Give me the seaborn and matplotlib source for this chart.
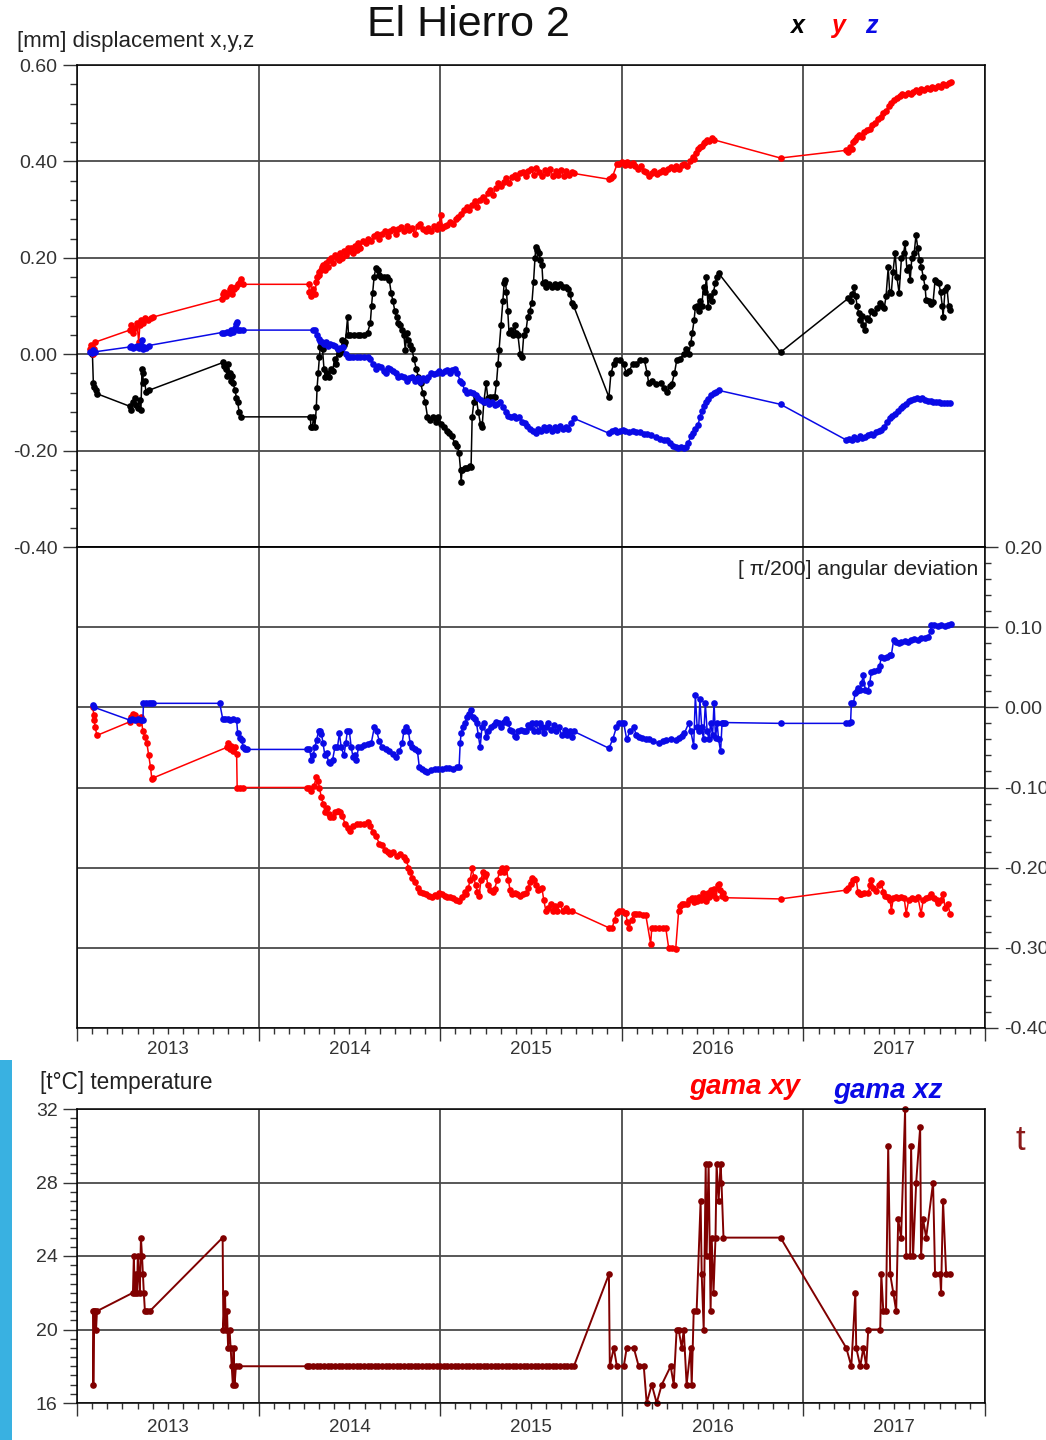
import matplotlib
matplotlib.use("Agg")
import matplotlib.pyplot as plt
import seaborn as sns
from matplotlib.ticker import MultipleLocator, FixedLocator, FormatStrFormatter, NullFormatter
from matplotlib.patches import Rectangle

# ---------------- DATA (decimal years, values) ----------------
years = [2013, 2014, 2015, 2016, 2017]

# displacement x (black)
x_t = [2013.085, 2013.090, 2013.095, 2013.105, 2013.110,
       2013.290, 2013.300, 2013.310, 2013.318, 2013.325, 2013.335, 2013.345, 2013.352, 2013.358, 2013.362,
       2013.366, 2013.372, 2013.380, 2013.395,
       2013.805, 2013.812, 2013.820, 2013.826, 2013.832, 2013.840, 2013.848, 2013.855, 2013.860, 2013.870,
       2013.878, 2013.885, 2013.893, 2013.905,
       2014.285, 2014.288, 2014.296, 2014.302, 2014.310, 2014.318, 2014.322, 2014.328, 2014.335, 2014.340,
       2014.346, 2014.352, 2014.360, 2014.368, 2014.378, 2014.388, 2014.398, 2014.408, 2014.418, 2014.425,
       2014.435, 2014.445, 2014.455, 2014.462, 2014.470, 2014.478, 2014.490, 2014.495, 2014.505, 2014.525,
       2014.545, 2014.560, 2014.580, 2014.600, 2014.615, 2014.622, 2014.628, 2014.636, 2014.645, 2014.655,
       2014.665, 2014.675, 2014.690, 2014.705, 2014.720, 2014.730, 2014.740, 2014.750, 2014.760, 2014.770,
       2014.780, 2014.790, 2014.800, 2014.808, 2014.815, 2014.825, 2014.835, 2014.845, 2014.855, 2014.868,
       2014.880, 2014.892, 2014.905, 2014.918, 2014.930, 2014.945, 2014.960, 2014.975, 2014.990, 2015.005,
       2015.020, 2015.035, 2015.049, 2015.065, 2015.080, 2015.095, 2015.104, 2015.112, 2015.115, 2015.121,
       2015.135, 2015.150, 2015.165, 2015.170, 2015.176, 2015.185, 2015.198, 2015.210, 2015.222, 2015.231,
       2015.240, 2015.253, 2015.262, 2015.275, 2015.290, 2015.300, 2015.310, 2015.318, 2015.324, 2015.335,
       2015.345, 2015.352, 2015.358, 2015.365, 2015.372, 2015.379, 2015.390, 2015.400, 2015.410, 2015.418,
       2015.428, 2015.440, 2015.451, 2015.460, 2015.473, 2015.482, 2015.492, 2015.505, 2015.514, 2015.522,
       2015.527, 2015.535, 2015.544, 2015.552, 2015.560, 2015.566, 2015.575, 2015.585, 2015.600, 2015.615,
       2015.630, 2015.645, 2015.660, 2015.675, 2015.692, 2015.705, 2015.715, 2015.725, 2015.735,
       2015.929, 2015.940, 2015.955, 2015.970, 2015.990, 2016.010, 2016.025, 2016.040, 2016.060, 2016.080,
       2016.100, 2016.125, 2016.140, 2016.148, 2016.165, 2016.190, 2016.215, 2016.230, 2016.250, 2016.265,
       2016.275, 2016.290, 2016.302, 2016.320, 2016.340, 2016.355, 2016.368, 2016.380, 2016.388, 2016.398,
       2016.405, 2016.415, 2016.425, 2016.433, 2016.440, 2016.450, 2016.458, 2016.466, 2016.475, 2016.485,
       2016.495, 2016.505, 2016.515, 2016.525, 2016.533,
       2016.874,
       2017.247, 2017.260, 2017.270, 2017.280, 2017.288, 2017.296, 2017.305, 2017.312, 2017.320, 2017.330,
       2017.340, 2017.348, 2017.360, 2017.374, 2017.390, 2017.405, 2017.420, 2017.432, 2017.445, 2017.455,
       2017.467, 2017.475, 2017.484, 2017.493, 2017.505, 2017.515, 2017.527, 2017.540, 2017.552, 2017.560,
       2017.570, 2017.580, 2017.588, 2017.597, 2017.610, 2017.620, 2017.630, 2017.640, 2017.650, 2017.660,
       2017.670, 2017.676, 2017.690, 2017.705, 2017.714, 2017.725, 2017.735, 2017.745, 2017.755, 2017.765,
       2017.769, 2017.780, 2017.790, 2017.800, 2017.808]
x_v = [0.000, -0.060, -0.068, -0.075, -0.082,
       -0.108, -0.115, -0.100, -0.090, -0.105, -0.112, -0.095, -0.115, -0.030, -0.040,
       -0.060, -0.055, -0.078, -0.075,
       -0.017, -0.025, -0.030, -0.045, -0.020, -0.040, -0.055, -0.045, -0.060, -0.075,
       -0.090, -0.100, -0.120, -0.130,
       -0.130, -0.150, -0.152, -0.130, -0.150, -0.110, -0.070, -0.040, -0.005, 0.015,
       0.023, 0.010, -0.030, -0.048, -0.040, -0.048, -0.030, -0.035, -0.010, -0.020,
       0.010, 0.000, 0.005, 0.030, 0.020, 0.025, 0.077, 0.040, 0.040, 0.040,
       0.040, 0.040, 0.040, 0.045, 0.064, 0.100, 0.127, 0.160, 0.178, 0.175,
       0.165, 0.160, 0.160, 0.160, 0.153, 0.127, 0.110, 0.090, 0.077, 0.065,
       0.060, 0.050, 0.040, 0.008, 0.045, 0.030, 0.020, 0.010, -0.010, -0.030,
       -0.048, -0.060, -0.080, -0.100, -0.130, -0.137, -0.130, -0.140, -0.130, -0.145,
       -0.150, -0.160, -0.164, -0.170, -0.185, -0.190, -0.206, -0.240, -0.265, -0.240,
       -0.236, -0.236, -0.232, -0.234, -0.130, -0.100, -0.089, -0.120, -0.145, -0.151,
       -0.100, -0.060, -0.090, -0.089, -0.089, -0.089, -0.060, -0.020, 0.008, 0.060,
       0.110, 0.147, 0.153, 0.130, 0.090, 0.044, 0.050, 0.040, 0.060, 0.044,
       0.040, 0.000, -0.006, 0.040, 0.050, 0.077, 0.090, 0.106, 0.150, 0.200,
       0.222, 0.216, 0.210, 0.195, 0.185, 0.147, 0.150, 0.139, 0.145, 0.139,
       0.145, 0.139, 0.145, 0.139, 0.140, 0.135, 0.125, 0.106, 0.100,
       -0.089, -0.040, -0.020, -0.013, -0.013, -0.020, -0.040, -0.035, -0.020, -0.020,
       -0.013, -0.013, -0.040, -0.060, -0.055, -0.062, -0.060, -0.070, -0.079, -0.065,
       -0.062, -0.040, -0.013, -0.010, 0.000, 0.010, 0.000, 0.023, 0.044, 0.070,
       0.098, 0.100, 0.090, 0.110, 0.100, 0.139, 0.130, 0.160, 0.098, 0.120,
       0.110, 0.130, 0.147, 0.160, 0.168,
       0.004,
       0.116, 0.110, 0.125, 0.139, 0.120, 0.100, 0.085, 0.071, 0.080, 0.060,
       0.050, 0.075, 0.070, 0.090, 0.085, 0.095, 0.106, 0.100, 0.095, 0.120,
       0.180, 0.130, 0.127, 0.170, 0.210, 0.160, 0.127, 0.200, 0.210, 0.230,
       0.175, 0.180, 0.153, 0.200, 0.210, 0.247, 0.220, 0.195, 0.180, 0.160,
       0.140, 0.112, 0.110, 0.105, 0.108, 0.153, 0.150, 0.147, 0.130, 0.100,
       0.077, 0.133, 0.140, 0.100, 0.091]

# displacement y (red)
y_t = [2013.071, 2013.075, 2013.080, 2013.085, 2013.090, 2013.095, 2013.100,
       2013.290, 2013.300, 2013.310, 2013.320, 2013.330, 2013.340, 2013.346, 2013.355, 2013.365, 2013.375,
       2013.390, 2013.405, 2013.418,
       2013.797, 2013.805, 2013.812, 2013.820, 2013.830, 2013.840, 2013.848, 2013.855, 2013.865, 2013.875,
       2013.885, 2013.895, 2013.905, 2013.912,
       2014.275, 2014.280, 2014.287, 2014.293, 2014.300, 2014.310, 2014.318, 2014.324, 2014.330, 2014.335,
       2014.342, 2014.350, 2014.357, 2014.365, 2014.372, 2014.380, 2014.390, 2014.400, 2014.410, 2014.420,
       2014.430, 2014.440, 2014.450, 2014.460, 2014.470, 2014.480, 2014.490, 2014.500, 2014.510, 2014.520,
       2014.530, 2014.540, 2014.550, 2014.560, 2014.575, 2014.590, 2014.605, 2014.620, 2014.635, 2014.650,
       2014.665, 2014.680, 2014.695, 2014.710, 2014.725, 2014.740, 2014.755, 2014.770, 2014.785, 2014.800,
       2014.815, 2014.830, 2014.845, 2014.860, 2014.875, 2014.890, 2014.905, 2014.920, 2014.935, 2014.950,
       2014.965, 2014.980, 2014.995, 2015.005, 2015.012, 2015.025, 2015.040, 2015.055, 2015.070, 2015.085,
       2015.100, 2015.115, 2015.130, 2015.145, 2015.160, 2015.175, 2015.190, 2015.205, 2015.220, 2015.235,
       2015.250, 2015.262, 2015.275, 2015.290, 2015.305, 2015.320, 2015.335, 2015.350, 2015.365, 2015.380,
       2015.395, 2015.410, 2015.425, 2015.440, 2015.455, 2015.470, 2015.485, 2015.500, 2015.515, 2015.530,
       2015.545, 2015.560, 2015.575, 2015.590, 2015.605, 2015.620, 2015.635, 2015.650, 2015.665, 2015.680,
       2015.695, 2015.710, 2015.725, 2015.736,
       2015.929, 2015.940, 2015.950, 2015.975, 2015.985, 2016.000, 2016.015, 2016.030, 2016.045, 2016.060,
       2016.075, 2016.090, 2016.105, 2016.120, 2016.135, 2016.150, 2016.165, 2016.180, 2016.195, 2016.210,
       2016.225, 2016.240, 2016.255, 2016.270, 2016.285, 2016.300, 2016.315, 2016.330, 2016.345, 2016.360,
       2016.375, 2016.390, 2016.400, 2016.410, 2016.420, 2016.430, 2016.440, 2016.450, 2016.460, 2016.470,
       2016.480, 2016.495, 2016.505,
       2016.874,
       2017.236, 2017.245, 2017.255, 2017.265, 2017.275, 2017.285, 2017.295, 2017.305, 2017.320, 2017.335,
       2017.350, 2017.365, 2017.380, 2017.395, 2017.410, 2017.425, 2017.440, 2017.455, 2017.470, 2017.485,
       2017.500, 2017.515, 2017.530, 2017.545, 2017.560, 2017.575, 2017.590, 2017.605, 2017.620, 2017.635,
       2017.650, 2017.665, 2017.680, 2017.695, 2017.710, 2017.725, 2017.740, 2017.755, 2017.770, 2017.785,
       2017.800, 2017.813]
y_v = [0.010, 0.020, 0.005, 0.015, 0.000, 0.010, 0.025,
       0.050, 0.060, 0.045, 0.055, 0.065, 0.025, 0.060, 0.070, 0.065, 0.075,
       0.070, 0.075, 0.077,
       0.115, 0.125, 0.130, 0.120, 0.128, 0.135, 0.140, 0.125, 0.135, 0.140,
       0.145, 0.150, 0.155, 0.145,
       0.145, 0.130, 0.120, 0.127, 0.135, 0.125, 0.150, 0.160, 0.170, 0.165,
       0.175, 0.180, 0.185, 0.175, 0.190, 0.180, 0.195, 0.200, 0.190, 0.205,
       0.200, 0.195, 0.210, 0.200, 0.215, 0.205, 0.220, 0.215, 0.220, 0.210,
       0.225, 0.216, 0.230, 0.220, 0.235, 0.230, 0.240, 0.235, 0.245, 0.250,
       0.240, 0.250, 0.255, 0.245, 0.255, 0.260, 0.250, 0.260, 0.263, 0.255,
       0.265, 0.258, 0.262, 0.250, 0.265, 0.270, 0.260, 0.255, 0.262, 0.255,
       0.265, 0.260, 0.270, 0.288, 0.262, 0.265, 0.268, 0.275, 0.270, 0.280,
       0.285, 0.290, 0.300, 0.305, 0.300, 0.310, 0.318, 0.305, 0.320, 0.326,
       0.318, 0.335, 0.340, 0.330, 0.345, 0.355, 0.350, 0.358, 0.365, 0.355,
       0.368, 0.372, 0.365, 0.375, 0.378, 0.370, 0.380, 0.384, 0.372, 0.386,
       0.378, 0.370, 0.382, 0.375, 0.385, 0.370, 0.380, 0.372, 0.382, 0.370,
       0.380, 0.372, 0.378, 0.375,
       0.363, 0.365, 0.370, 0.395, 0.395, 0.398, 0.393, 0.398, 0.393, 0.396,
       0.390, 0.385, 0.390, 0.380, 0.378, 0.370, 0.375, 0.380, 0.373, 0.378,
       0.382, 0.378, 0.385, 0.388, 0.385, 0.390, 0.385, 0.392, 0.395, 0.390,
       0.400, 0.410, 0.405, 0.418, 0.425, 0.430, 0.432, 0.438, 0.440, 0.445,
       0.443, 0.448, 0.445,
       0.407,
       0.423, 0.420, 0.430, 0.425, 0.440, 0.445, 0.450, 0.455, 0.450, 0.460,
       0.465, 0.468, 0.475, 0.480, 0.488, 0.492, 0.500, 0.505, 0.515, 0.522,
       0.527, 0.532, 0.535, 0.540, 0.538, 0.542, 0.540, 0.545, 0.548, 0.545,
       0.550, 0.548, 0.552, 0.550, 0.555, 0.552, 0.557, 0.555, 0.560, 0.558,
       0.562, 0.565]

# displacement z (blue)
z_t = [2013.071, 2013.080, 2013.090, 2013.100,
       2013.290, 2013.300, 2013.310, 2013.320, 2013.330, 2013.340, 2013.350, 2013.358, 2013.363, 2013.370,
       2013.380, 2013.395,
       2013.797, 2013.810, 2013.825, 2013.840, 2013.850, 2013.860, 2013.870, 2013.875, 2013.880, 2013.885,
       2013.900, 2013.912,
       2014.297, 2014.310, 2014.320, 2014.330, 2014.340, 2014.350, 2014.360, 2014.370, 2014.380, 2014.392,
       2014.407, 2014.420, 2014.435, 2014.450, 2014.465, 2014.480, 2014.490, 2014.505, 2014.520, 2014.540,
       2014.560, 2014.580, 2014.600, 2014.615, 2014.630, 2014.645, 2014.660, 2014.675, 2014.690, 2014.700,
       2014.712, 2014.725, 2014.740, 2014.755, 2014.770, 2014.785, 2014.800, 2014.815, 2014.830, 2014.845,
       2014.860, 2014.875, 2014.890, 2014.905, 2014.920, 2014.935, 2014.950, 2014.965, 2014.980, 2014.995,
       2015.010, 2015.025, 2015.040, 2015.055, 2015.065, 2015.080, 2015.095, 2015.110, 2015.121, 2015.135,
       2015.150, 2015.165, 2015.180, 2015.195, 2015.210, 2015.225, 2015.240, 2015.255, 2015.270, 2015.285,
       2015.300, 2015.315, 2015.330, 2015.345, 2015.360, 2015.375, 2015.390, 2015.405, 2015.420, 2015.435,
       2015.450, 2015.465, 2015.480, 2015.495, 2015.510, 2015.525, 2015.540, 2015.555, 2015.570, 2015.585,
       2015.600, 2015.615, 2015.630, 2015.645, 2015.660, 2015.675, 2015.690, 2015.705, 2015.720, 2015.736,
       2015.929, 2015.945, 2015.960, 2015.975, 2015.990, 2016.005, 2016.020, 2016.040, 2016.060, 2016.080,
       2016.100, 2016.120, 2016.140, 2016.160, 2016.187, 2016.210, 2016.230, 2016.250, 2016.265, 2016.280,
       2016.297, 2016.310, 2016.325, 2016.340, 2016.352, 2016.365, 2016.380, 2016.392, 2016.405, 2016.420,
       2016.430, 2016.440, 2016.450, 2016.462, 2016.475, 2016.490, 2016.505, 2016.520, 2016.533,
       2016.874,
       2017.236, 2017.250, 2017.265, 2017.280, 2017.295, 2017.310, 2017.325, 2017.340, 2017.355, 2017.370,
       2017.385, 2017.400, 2017.415, 2017.430, 2017.445, 2017.460, 2017.475, 2017.490, 2017.505, 2017.520,
       2017.535, 2017.550, 2017.565, 2017.580, 2017.595, 2017.610, 2017.625, 2017.640, 2017.655, 2017.670,
       2017.685, 2017.700, 2017.715, 2017.730, 2017.745, 2017.760, 2017.775, 2017.790, 2017.808]
z_v = [0.005, 0.003, 0.008, 0.005,
       0.015, 0.018, 0.013, 0.015, 0.018, 0.012, 0.020, 0.030, 0.010, 0.015,
       0.012, 0.018,
       0.045, 0.045, 0.047, 0.045, 0.050, 0.046, 0.055, 0.062, 0.066, 0.050,
       0.050, 0.050,
       0.050, 0.050, 0.040, 0.032, 0.028, 0.025, 0.022, 0.025, 0.018, 0.022,
       0.020, 0.018, 0.010, 0.012, 0.015, 0.000, -0.006, -0.005, -0.005, -0.005,
       -0.005, -0.005, -0.006, -0.010, -0.020, -0.030, -0.025, -0.027, -0.035, -0.040,
       -0.028, -0.030, -0.035, -0.040, -0.048, -0.045, -0.048, -0.055, -0.050, -0.048,
       -0.055, -0.050, -0.058, -0.050, -0.054, -0.048, -0.040, -0.042, -0.038, -0.035,
       -0.040, -0.035, -0.033, -0.040, -0.032, -0.030, -0.040, -0.055, -0.060, -0.075,
       -0.081, -0.078, -0.081, -0.085, -0.090, -0.095, -0.100, -0.098, -0.103, -0.100,
       -0.105, -0.103, -0.100, -0.110, -0.120, -0.128, -0.130, -0.128, -0.132, -0.130,
       -0.140, -0.143, -0.148, -0.155, -0.160, -0.164, -0.155, -0.160, -0.150, -0.158,
       -0.152, -0.160, -0.150, -0.157, -0.148, -0.155, -0.150, -0.155, -0.143, -0.133,
       -0.164, -0.160, -0.158, -0.162, -0.160, -0.158, -0.160, -0.162, -0.160, -0.162,
       -0.162, -0.165, -0.165, -0.168, -0.172, -0.175, -0.178, -0.178, -0.185, -0.190,
       -0.193, -0.195, -0.193, -0.195, -0.193, -0.185, -0.170, -0.164, -0.155, -0.147,
       -0.130, -0.118, -0.108, -0.100, -0.092, -0.085, -0.080, -0.078, -0.075,
       -0.104,
       -0.178, -0.175, -0.178, -0.172, -0.175, -0.170, -0.173, -0.172, -0.168, -0.165,
       -0.168, -0.162, -0.160, -0.158, -0.150, -0.140, -0.133, -0.128, -0.125, -0.118,
       -0.112, -0.108, -0.103, -0.098, -0.095, -0.093, -0.091, -0.092, -0.091, -0.095,
       -0.098, -0.098, -0.099, -0.100, -0.100, -0.101, -0.101, -0.102, -0.102]

# angular deviation gama xy (red)
gxy_t = [2013.088, 2013.092, 2013.095, 2013.100, 2013.110,
         2013.291, 2013.300, 2013.308, 2013.318, 2013.328, 2013.340, 2013.352, 2013.363, 2013.374, 2013.385,
         2013.395, 2013.405, 2013.412, 2013.420,
         2013.824, 2013.830, 2013.840, 2013.850, 2013.860, 2013.870, 2013.879, 2013.882, 2013.895, 2013.912,
         2014.264, 2014.280, 2014.291, 2014.305, 2014.318, 2014.326, 2014.335, 2014.345, 2014.355, 2014.365,
         2014.375, 2014.385, 2014.395, 2014.407, 2014.420, 2014.435, 2014.450, 2014.462, 2014.475, 2014.490,
         2014.505, 2014.520, 2014.540, 2014.560, 2014.580, 2014.600, 2014.615, 2014.630, 2014.645, 2014.665,
         2014.680, 2014.695, 2014.710, 2014.725, 2014.740, 2014.760, 2014.780, 2014.800, 2014.813, 2014.825,
         2014.835, 2014.846, 2014.860, 2014.875, 2014.890, 2014.905, 2014.923, 2014.940, 2014.955, 2014.970,
         2014.985, 2014.995, 2015.010, 2015.025, 2015.040, 2015.055, 2015.070, 2015.085, 2015.104, 2015.120,
         2015.135, 2015.143, 2015.155, 2015.165, 2015.176, 2015.185, 2015.195, 2015.205, 2015.214, 2015.225,
         2015.235, 2015.245, 2015.253, 2015.262, 2015.275, 2015.290, 2015.300, 2015.315, 2015.328, 2015.340,
         2015.352, 2015.363, 2015.375, 2015.385, 2015.396, 2015.410, 2015.425, 2015.440, 2015.455, 2015.473,
         2015.485, 2015.495, 2015.505, 2015.515, 2015.528, 2015.540, 2015.552, 2015.560, 2015.570, 2015.582,
         2015.595, 2015.610, 2015.620, 2015.632, 2015.645, 2015.660, 2015.675, 2015.692, 2015.705, 2015.725,
         2015.929, 2015.947, 2015.960, 2015.972, 2015.984, 2016.000, 2016.015, 2016.022, 2016.030, 2016.038,
         2016.055, 2016.065, 2016.077, 2016.095, 2016.115, 2016.132, 2016.159, 2016.165, 2016.185, 2016.205,
         2016.225, 2016.242, 2016.258, 2016.275, 2016.297, 2016.313, 2016.322, 2016.330, 2016.345, 2016.360,
         2016.372, 2016.385, 2016.395, 2016.405, 2016.415, 2016.425, 2016.435, 2016.445, 2016.455, 2016.462,
         2016.472, 2016.480, 2016.490, 2016.500, 2016.510, 2016.520, 2016.527, 2016.533, 2016.540, 2016.550,
         2016.560, 2016.571,
         2016.874,
         2017.236, 2017.247, 2017.260, 2017.275, 2017.285, 2017.291, 2017.300, 2017.310, 2017.319, 2017.335,
         2017.357, 2017.368, 2017.374, 2017.385, 2017.401, 2017.415, 2017.429, 2017.440, 2017.451, 2017.465,
         2017.478, 2017.484, 2017.495, 2017.510, 2017.522, 2017.540, 2017.555, 2017.566, 2017.580, 2017.600,
         2017.615, 2017.630, 2017.648, 2017.660, 2017.675, 2017.690, 2017.703, 2017.720, 2017.735, 2017.742,
         2017.755, 2017.769, 2017.780, 2017.795, 2017.808]
gxy_v = [0.000, -0.010, -0.016, -0.025, -0.035,
         -0.018, -0.012, -0.008, -0.010, -0.015, -0.020, -0.012, -0.030, -0.037, -0.045,
         -0.060, -0.075, -0.089, -0.088,
         -0.050, -0.045, -0.052, -0.048, -0.055, -0.050, -0.058, -0.100, -0.100, -0.100,
         -0.100, -0.100, -0.104, -0.098, -0.087, -0.092, -0.100, -0.112, -0.120, -0.130,
         -0.125, -0.133, -0.137, -0.137, -0.130, -0.129, -0.130, -0.135, -0.145, -0.150,
         -0.154, -0.148, -0.145, -0.145, -0.145, -0.143, -0.148, -0.155, -0.160, -0.170,
         -0.172, -0.178, -0.180, -0.183, -0.180, -0.185, -0.183, -0.187, -0.190, -0.200,
         -0.205, -0.2125, -0.218, -0.225, -0.230, -0.232, -0.233, -0.235, -0.236, -0.234,
         -0.235, -0.232, -0.233, -0.235, -0.236, -0.237, -0.238, -0.240, -0.241, -0.236,
         -0.230, -0.233, -0.225, -0.215, -0.200, -0.212, -0.222, -0.230, -0.235, -0.215,
         -0.205, -0.210, -0.208, -0.222, -0.228, -0.230, -0.226, -0.215, -0.205, -0.200,
         -0.205, -0.200, -0.215, -0.228, -0.233, -0.232, -0.233, -0.235, -0.233, -0.232,
         -0.225, -0.218, -0.213, -0.216, -0.222, -0.228, -0.226, -0.225, -0.240, -0.254,
         -0.250, -0.245, -0.254, -0.248, -0.254, -0.245, -0.254, -0.250, -0.254, -0.254,
         -0.275, -0.275, -0.265, -0.256, -0.254, -0.254, -0.256, -0.256, -0.268, -0.275,
         -0.265, -0.258, -0.258, -0.258, -0.259, -0.259, -0.295, -0.275, -0.275, -0.275,
         -0.275, -0.275, -0.300, -0.300, -0.301, -0.254, -0.248, -0.245, -0.245, -0.245,
         -0.240, -0.2375, -0.243, -0.238, -0.242, -0.236, -0.240, -0.232, -0.238, -0.241,
         -0.232, -0.236, -0.228, -0.234, -0.226, -0.238, -0.222, -0.220, -0.228, -0.235,
         -0.232, -0.2375,
         -0.239,
         -0.228, -0.225, -0.220, -0.216, -0.214, -0.214, -0.230, -0.2325, -0.2325, -0.231,
         -0.231, -0.222, -0.216, -0.225, -0.229, -0.222, -0.219, -0.230, -0.235, -0.237,
         -0.240, -0.254, -0.238, -0.236, -0.2375, -0.236, -0.238, -0.2575, -0.240, -0.238,
         -0.239, -0.236, -0.2575, -0.240, -0.238, -0.236, -0.2325, -0.238, -0.240, -0.244,
         -0.240, -0.2325, -0.250, -0.245, -0.2575]

# angular deviation gama xz (blue)
gxz_t = [2013.088, 2013.095,
         2013.291, 2013.305, 2013.320, 2013.335, 2013.350, 2013.363, 2013.366, 2013.380, 2013.395, 2013.405,
         2013.418,
         2013.786, 2013.802, 2013.815, 2013.830, 2013.845, 2013.860, 2013.879, 2013.885, 2013.895, 2013.907,
         2013.915, 2013.923, 2013.935,
         2014.264, 2014.280, 2014.291, 2014.300, 2014.310, 2014.319, 2014.330, 2014.340, 2014.346, 2014.355,
         2014.365, 2014.374, 2014.385, 2014.395, 2014.407, 2014.420, 2014.434, 2014.445, 2014.455, 2014.470,
         2014.480, 2014.489, 2014.500, 2014.510, 2014.520, 2014.530, 2014.538, 2014.550, 2014.566, 2014.580,
         2014.600, 2014.620, 2014.637, 2014.650, 2014.665, 2014.681, 2014.700, 2014.720, 2014.740, 2014.758,
         2014.775, 2014.790, 2014.800, 2014.813, 2014.825, 2014.835, 2014.846, 2014.860, 2014.875, 2014.885,
         2014.900, 2014.915, 2014.929, 2014.950, 2014.970, 2014.990, 2015.010, 2015.030, 2015.050, 2015.070,
         2015.090, 2015.104, 2015.110, 2015.115, 2015.125, 2015.135, 2015.150, 2015.160, 2015.170, 2015.180,
         2015.190, 2015.200, 2015.210, 2015.220, 2015.230, 2015.240, 2015.253, 2015.265, 2015.280, 2015.295,
         2015.310, 2015.324, 2015.335, 2015.350, 2015.363, 2015.375, 2015.385, 2015.396, 2015.410, 2015.418,
         2015.430, 2015.445, 2015.460, 2015.473, 2015.485, 2015.495, 2015.505, 2015.516, 2015.527, 2015.540,
         2015.550, 2015.560, 2015.570, 2015.582, 2015.595, 2015.610, 2015.625, 2015.640, 2015.654, 2015.670,
         2015.685, 2015.700, 2015.715, 2015.725, 2015.736,
         2015.929, 2015.950, 2015.970, 2015.984, 2016.000, 2016.011, 2016.027, 2016.045, 2016.066, 2016.080,
         2016.093, 2016.110, 2016.132, 2016.150, 2016.170, 2016.203, 2016.225, 2016.242, 2016.270, 2016.297,
         2016.315, 2016.330, 2016.345, 2016.368, 2016.380, 2016.396, 2016.405, 2016.415, 2016.423, 2016.430,
         2016.440, 2016.450, 2016.460, 2016.470, 2016.480, 2016.489, 2016.500, 2016.508, 2016.516, 2016.525,
         2016.533, 2016.544, 2016.552, 2016.560, 2016.571,
         2016.874,
         2017.236, 2017.250, 2017.260, 2017.264, 2017.275, 2017.286, 2017.295, 2017.302, 2017.313, 2017.320,
         2017.330, 2017.341, 2017.355, 2017.365, 2017.374, 2017.390, 2017.412, 2017.420, 2017.429, 2017.445,
         2017.460, 2017.475, 2017.484, 2017.497, 2017.510, 2017.525, 2017.540, 2017.560, 2017.575, 2017.590,
         2017.610, 2017.632, 2017.650, 2017.670, 2017.687, 2017.700, 2017.703, 2017.720, 2017.740, 2017.760,
         2017.780, 2017.797, 2017.813]
gxz_v = [0.0025, 0.000,
         -0.016, -0.015, -0.016, -0.014, -0.016, -0.016, 0.005, 0.005, 0.005, 0.005,
         0.005,
         0.005, -0.014, -0.015, -0.014, -0.016, -0.015, -0.016, -0.0325, -0.038, -0.041,
         -0.050, -0.0525, -0.0525,
         -0.0525, -0.052, -0.066, -0.060, -0.050, -0.041, -0.030, -0.029, -0.033, -0.045,
         -0.060, -0.0575, -0.068, -0.070, -0.066, -0.050, -0.050, -0.0325, -0.050, -0.060,
         -0.045, -0.029, -0.030, -0.050, -0.062, -0.060, -0.066, -0.050, -0.050, -0.047,
         -0.046, -0.045, -0.025, -0.030, -0.042, -0.050, -0.052, -0.055, -0.058, -0.0625,
         -0.055, -0.045, -0.030, -0.025, -0.030, -0.045, -0.050, -0.052, -0.055, -0.075,
         -0.077, -0.080, -0.081, -0.078, -0.077, -0.077, -0.077, -0.076, -0.076, -0.077,
         -0.075, -0.075, -0.045, -0.0325, -0.025, -0.020, -0.012, -0.008, -0.003, -0.012,
         -0.015, -0.020, -0.035, -0.050, -0.025, -0.020, -0.037, -0.030, -0.025, -0.022,
         -0.018, -0.020, -0.025, -0.018, -0.014, -0.020, -0.028, -0.030, -0.036, -0.0375,
         -0.030, -0.028, -0.030, -0.030, -0.022, -0.025, -0.020, -0.030, -0.020, -0.030,
         -0.020, -0.025, -0.032, -0.025, -0.020, -0.028, -0.022, -0.030, -0.025, -0.035,
         -0.028, -0.035, -0.030, -0.037, -0.030,
         -0.051, -0.040, -0.025, -0.020, -0.020, -0.020, -0.040, -0.030, -0.025, -0.035,
         -0.037, -0.038, -0.039, -0.040, -0.042, -0.045, -0.042, -0.041, -0.040, -0.041,
         -0.038, -0.036, -0.032, -0.020, -0.030, -0.048, 0.015, -0.025, -0.030, 0.010,
         -0.025, -0.040, 0.005, -0.030, -0.040, -0.020, -0.035, 0.006, -0.038, -0.020,
         -0.040, -0.055, -0.020, -0.020, -0.019,
         -0.020,
         -0.020, -0.020, -0.018, 0.005, 0.005, 0.018, 0.020, 0.024, 0.022, 0.030,
         0.040, 0.021, 0.020, 0.030, 0.044, 0.045, 0.046, 0.052, 0.0625, 0.062,
         0.063, 0.065, 0.065, 0.084, 0.082, 0.080, 0.082, 0.083, 0.082, 0.084,
         0.085, 0.084, 0.086, 0.087, 0.0875, 0.095, 0.1025, 0.1025, 0.101, 0.103,
         0.101, 0.1025, 0.104]

# temperature
temp_t = [2013.088, 2013.090, 2013.095, 2013.100, 2013.105, 2013.110,
          2013.308, 2013.313, 2013.318, 2013.325, 2013.330, 2013.335, 2013.340, 2013.346, 2013.352, 2013.358,
          2013.363, 2013.368, 2013.374, 2013.385, 2013.401,
          2013.802, 2013.806, 2013.815, 2013.820, 2013.826, 2013.832, 2013.840, 2013.846, 2013.852, 2013.858,
          2013.862, 2013.868, 2013.875, 2013.890,
          2014.264, 2014.28, 2014.30, 2014.32, 2014.34, 2014.36, 2014.38, 2014.40, 2014.42, 2014.44, 2014.46,
          2014.48, 2014.50, 2014.52, 2014.54, 2014.56, 2014.58, 2014.60, 2014.62, 2014.64, 2014.66, 2014.68,
          2014.70, 2014.72, 2014.74, 2014.76, 2014.78, 2014.80, 2014.82, 2014.84, 2014.86, 2014.88, 2014.90,
          2014.92, 2014.94, 2014.96, 2014.98, 2015.00, 2015.02, 2015.04, 2015.06, 2015.08, 2015.10, 2015.12,
          2015.14, 2015.16, 2015.18, 2015.20, 2015.22, 2015.24, 2015.26, 2015.28, 2015.30, 2015.32, 2015.34,
          2015.36, 2015.38, 2015.40, 2015.42, 2015.44, 2015.46, 2015.48, 2015.50, 2015.52, 2015.54, 2015.56,
          2015.58, 2015.60, 2015.62, 2015.64, 2015.66, 2015.68, 2015.70, 2015.72, 2015.736,
          2015.929, 2015.934, 2015.956, 2015.973, 2016.011, 2016.027, 2016.066, 2016.093, 2016.121, 2016.137,
          2016.165, 2016.192, 2016.220, 2016.269, 2016.286, 2016.302, 2016.313, 2016.330, 2016.341, 2016.357,
          2016.379, 2016.385, 2016.396, 2016.412, 2016.434, 2016.440, 2016.451, 2016.462, 2016.467, 2016.478,
          2016.489, 2016.495, 2016.505, 2016.516, 2016.522, 2016.533, 2016.544, 2016.549, 2016.560,
          2016.874,
          2017.236, 2017.264, 2017.286, 2017.291, 2017.313, 2017.330, 2017.346, 2017.357, 2017.423, 2017.429,
          2017.440, 2017.455, 2017.467, 2017.478, 2017.495, 2017.511, 2017.522, 2017.538, 2017.560, 2017.566,
          2017.588, 2017.593, 2017.604, 2017.621, 2017.643, 2017.648, 2017.659, 2017.676, 2017.714, 2017.725,
          2017.753, 2017.758, 2017.769, 2017.786, 2017.808]
temp_v = [21, 17, 21, 21, 20, 21,
          22, 24, 22, 23, 22, 24, 23, 22, 25, 24,
          23, 22, 21, 21, 21,
          25, 20, 22, 20, 21, 19, 20, 19, 18, 17,
          19, 17, 18, 18,
          18, 18, 18, 18, 18, 18, 18, 18, 18, 18, 18,
          18, 18, 18, 18, 18, 18, 18, 18, 18, 18, 18,
          18, 18, 18, 18, 18, 18, 18, 18, 18, 18, 18,
          18, 18, 18, 18, 18, 18, 18, 18, 18, 18, 18,
          18, 18, 18, 18, 18, 18, 18, 18, 18, 18, 18,
          18, 18, 18, 18, 18, 18, 18, 18, 18, 18, 18,
          18, 18, 18, 18, 18, 18, 18, 18, 18,
          23, 18, 19, 18, 18, 19, 19, 18, 18, 16,
          17, 16, 17, 18, 17, 20, 20, 19, 20, 17,
          19, 17, 21, 21, 27, 23, 20, 29, 24, 29,
          21, 25, 22, 25, 29, 27, 29, 28, 25,
          25,
          19, 18, 22, 19, 18, 19, 18, 20, 20, 23,
          21, 21, 30, 23, 22, 21, 26, 25, 32, 24,
          24, 30, 24, 28, 31, 24, 26, 25, 28, 23,
          23, 22, 27, 23, 23]

# ---------------- STYLE ----------------
sns.set_style("white")
plt.rcParams["font.family"] = ["Liberation Sans", "DejaVu Sans"]
plt.rcParams["axes.unicode_minus"] = False

W, H = 1046, 1440
fig = plt.figure(figsize=(W / 100, H / 100), dpi=100)
fig.patch.set_facecolor("white")


def fx(px):
    return px / W


def fy(py):
    return 1 - py / H


L, R = 77, 985
ax1 = fig.add_axes([fx(L), fy(547), fx(R) - fx(L), (547 - 65) / H])
ax2 = fig.add_axes([fx(L), fy(1028), fx(R) - fx(L), (1028 - 547) / H])
ax3 = fig.add_axes([fx(L), fy(1403), fx(R) - fx(L), (1403 - 1109) / H])

GRID = "#4a4a4a"
TICKC = "#333333"
months = [2013 + m / 12 for m in range(61)]

for ax in (ax1, ax2, ax3):
    ax.set_xlim(2013, 2018)
    ax.set_facecolor("white")
    ax.set_axisbelow(True)
    for s in ax.spines.values():
        s.set_color("black")
        s.set_linewidth(1.1)
        s.set_visible(True)
    ax.xaxis.set_major_locator(FixedLocator([2013, 2014, 2015, 2016, 2017, 2018]))
    ax.xaxis.set_minor_locator(FixedLocator(months))
    ax.xaxis.set_major_formatter(NullFormatter())
    ax.grid(True, which="major", axis="both", color=GRID, linewidth=1.3)
    ax.grid(False, which="minor")

mk = dict(estimator=None, sort=False, marker="o", markersize=4.8, markeredgewidth=0,
          linewidth=1.1, legend=False)

# ---------- top panel: displacement ----------
sns.lineplot(x=x_t, y=x_v, color="black", ax=ax1, **mk)
sns.lineplot(x=y_t, y=y_v, color="#ff0000", ax=ax1, **mk)
sns.lineplot(x=z_t, y=z_v, color="#0a0ae6", ax=ax1, **mk)
ax1.set_ylim(-0.40, 0.60)
ax1.yaxis.set_major_locator(MultipleLocator(0.2))
ax1.yaxis.set_minor_locator(MultipleLocator(0.04))
ax1.yaxis.set_major_formatter(FormatStrFormatter("%.2f"))
ax1.tick_params(axis="y", which="major", left=True, right=False, direction="out", length=10,
                width=1, labelsize=14, labelcolor=TICKC, pad=4, color=TICKC)
ax1.tick_params(axis="y", which="minor", left=True, right=False, direction="out", length=5,
                width=1, color=TICKC)
ax1.tick_params(axis="x", which="both", bottom=False, top=False, labelbottom=False)
ax1.set_xlabel("")
ax1.set_ylabel("")

# ---------- middle panel: angular deviation ----------
sns.lineplot(x=gxy_t, y=gxy_v, color="#ff0000", ax=ax2, **mk)
sns.lineplot(x=gxz_t, y=gxz_v, color="#0a0ae6", ax=ax2, **mk)
ax2.set_ylim(-0.40, 0.20)
ax2.yaxis.tick_right()
ax2.yaxis.set_major_locator(MultipleLocator(0.1))
ax2.yaxis.set_minor_locator(MultipleLocator(0.02))
ax2.yaxis.set_major_formatter(FormatStrFormatter("%.2f"))
ax2.tick_params(axis="y", which="major", left=False, right=True, labelleft=False, labelright=True,
                direction="out", length=9, width=1, labelsize=14, labelcolor=TICKC, pad=5, color=TICKC)
ax2.tick_params(axis="y", which="minor", left=False, right=True, direction="out", length=4.5,
                width=1, color=TICKC)
ax2.set_xlabel("")
ax2.set_ylabel("")

# ---------- bottom panel: temperature ----------
sns.lineplot(x=temp_t, y=temp_v, color="#800000", ax=ax3, clip_on=False,
             **{**mk, "linewidth": 1.4})
ax3.set_ylim(16, 32)
ax3.yaxis.set_major_locator(MultipleLocator(4))
ax3.yaxis.set_minor_locator(MultipleLocator(0.5))
ax3.yaxis.set_major_formatter(FormatStrFormatter("%d"))
ax3.tick_params(axis="y", which="major", left=True, right=False, direction="out", length=10,
                width=1, labelsize=14, labelcolor=TICKC, pad=4, color=TICKC)
ax3.tick_params(axis="y", which="minor", left=True, right=False, direction="out", length=5,
                width=1, color=TICKC)
ax3.set_xlabel("")
ax3.set_ylabel("")

for ax, off in ((ax2, 22), (ax3, 25)):
    ax.tick_params(axis="x", which="major", bottom=True, top=False, direction="out", length=9,
                   width=1, color=TICKC)
    ax.tick_params(axis="x", which="minor", bottom=True, top=False, direction="out", length=4,
                   width=1, color=TICKC)
    for yr in years:
        ax.annotate(str(yr), xy=(yr + 0.5, 0), xycoords=("data", "axes fraction"),
                    xytext=(0, -off * 0.72), textcoords="offset points",
                    ha="center", va="center", fontsize=13.5, color=TICKC)

# ---------- texts ----------
fig.text(fx(468), fy(25), "El Hierro 2", ha="center", va="center", fontsize=31, color="#111111")
fig.text(fx(17), fy(42), "[mm] displacement x,y,z", ha="left", va="center", fontsize=16,
         color="#222222")
for lab, px, col in (("x", 797, "black"), ("y", 838, "#ff0000"), ("z", 871, "#0a0ae6")):
    fig.text(fx(px), fy(26), lab, ha="center", va="center", fontsize=18, fontweight="bold",
             fontstyle="italic", color=col)
fig.text(fx(978), fy(570), "[ π/200] angular deviation", ha="right", va="center", fontsize=15.2,
         color="#222222")
fig.text(fx(40), fy(1083), "[t°C] temperature", ha="left", va="center", fontsize=16.3,
         color="#222222")
fig.text(fx(745), fy(1087), "gama xy", ha="center", va="center", fontsize=20, fontweight="bold",
         fontstyle="italic", color="#ff0000")
fig.text(fx(888), fy(1091), "gama xz", ha="center", va="center", fontsize=20, fontweight="bold",
         fontstyle="italic", color="#0a0ae6")
fig.text(fx(1020), fy(1140), "t", ha="center", va="center", fontsize=25, color="#8b1a1a")

# slide accent bar at lower left
fig.patches.append(Rectangle((0, 0), fx(12), (1440 - 1060) / H, transform=fig.transFigure,
                             facecolor="#39b1e1", edgecolor="none"))

fig.savefig("out.png", dpi=100, facecolor="white")
